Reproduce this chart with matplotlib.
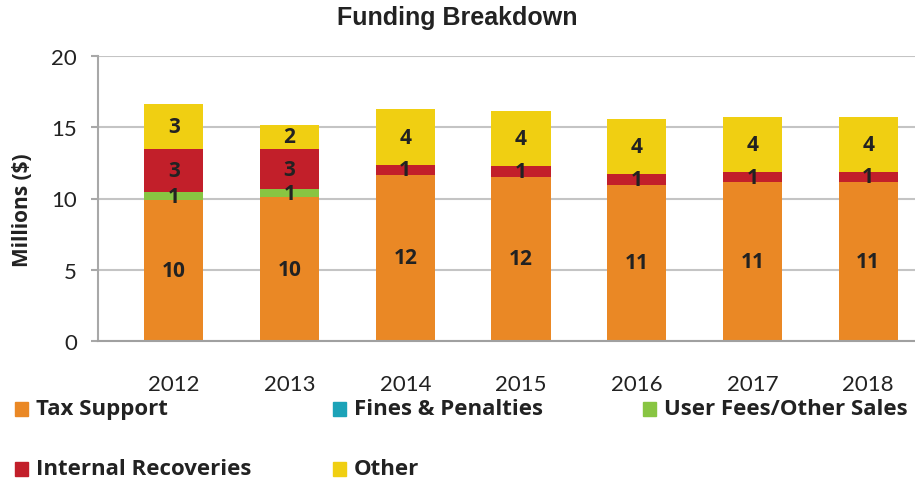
import numpy as np
import matplotlib.pyplot as plt
from matplotlib.patches import Rectangle

years = ['2012', '2013', '2014', '2015', '2016', '2017', '2018']
tax_support = [9.87, 10.08, 11.65, 11.53, 10.95, 11.14, 11.16]
fines_penalties = [0, 0, 0, 0, 0, 0, 0]
user_fees = [0.57, 0.59, 0, 0, 0, 0, 0]
internal_recoveries = [3.03, 2.80, 0.72, 0.75, 0.75, 0.72, 0.72]
other = [3.16, 1.71, 3.88, 3.84, 3.88, 3.86, 3.86]

series_names = ['Tax Support', 'Fines & Penalties', 'User Fees/Other Sales',
                'Internal Recoveries', 'Other']
series_values = [tax_support, fines_penalties, user_fees, internal_recoveries, other]
colors = ['#EA8825', '#1CA3B8', '#88C542', '#C21F2A', '#F0CF12']

fig = plt.figure(figsize=(9.15, 4.85), dpi=100)
# axes extends past the right edge like the cropped original
ax = fig.add_axes([98 / 915, 1 - 342 / 485, 846 / 915, 285 / 485])

x = np.arange(len(years))
bottom = np.zeros(len(years))
for name, vals, col in zip(series_names, series_values, colors):
    vals = np.array(vals, dtype=float)
    ax.bar(x, vals, width=0.51, bottom=bottom, color=col, zorder=2)
    for xi, b, v in zip(x, bottom, vals):
        if v > 0.3:
            ax.text(xi, b + v / 2, f'{v:.0f}', ha='center', va='center',
                    fontsize=15, fontweight='bold', color='#222222',
                    family='Open Sans', zorder=3)
    bottom += vals

ax.set_xlim(-0.655, 6.655)
ax.set_ylim(0, 20)
ax.set_yticks([0, 5, 10, 15, 20])
ax.set_xticks(x)
ax.set_xticklabels(years)
ax.yaxis.grid(True, color='#C4C4C4', linewidth=1.5, zorder=0)
ax.set_axisbelow(True)
for side in ['top', 'right']:
    ax.spines[side].set_visible(False)
ax.spines['left'].set_color('#A8A8A8')
ax.spines['bottom'].set_color('#A0A0A0')
ax.spines['left'].set_linewidth(1.5)
ax.spines['bottom'].set_linewidth(1.5)
ax.tick_params(axis='y', length=5, color='#A8A8A8', width=1.5, pad=10,
               labelsize=16, labelcolor='#222222')
ax.tick_params(axis='x', length=0, pad=24, labelsize=16, labelcolor='#222222')
for lab in ax.get_xticklabels() + ax.get_yticklabels():
    lab.set_family('Lato')

fig.text(23 / 915, 1 - 210 / 485, 'Millions ($)', rotation=90, ha='center',
         va='center', fontsize=15, fontweight='bold', family='Open Sans',
         color='#222222')
fig.text(0.5, 1 - 18 / 485, 'Funding Breakdown', ha='center', va='center',
         fontsize=18, fontweight='bold', family='Liberation Sans',
         color='#222222')

# legend, laid out like the original two rows
leg_pos = [(15, 410), (333, 410), (643, 410), (15, 470), (333, 470)]
for (px, py), name, col in zip(leg_pos, series_names, colors):
    fig.patches.append(Rectangle((px / 915, 1 - (py + 7) / 485), 13 / 915, 14 / 485,
                                 transform=fig.transFigure, color=col))
    fig.text((px + 21) / 915, 1 - py / 485, name, ha='left', va='center',
             fontsize=16, fontweight='bold', family='Open Sans', color='#222222')

fig.savefig('out.png', dpi=100)
